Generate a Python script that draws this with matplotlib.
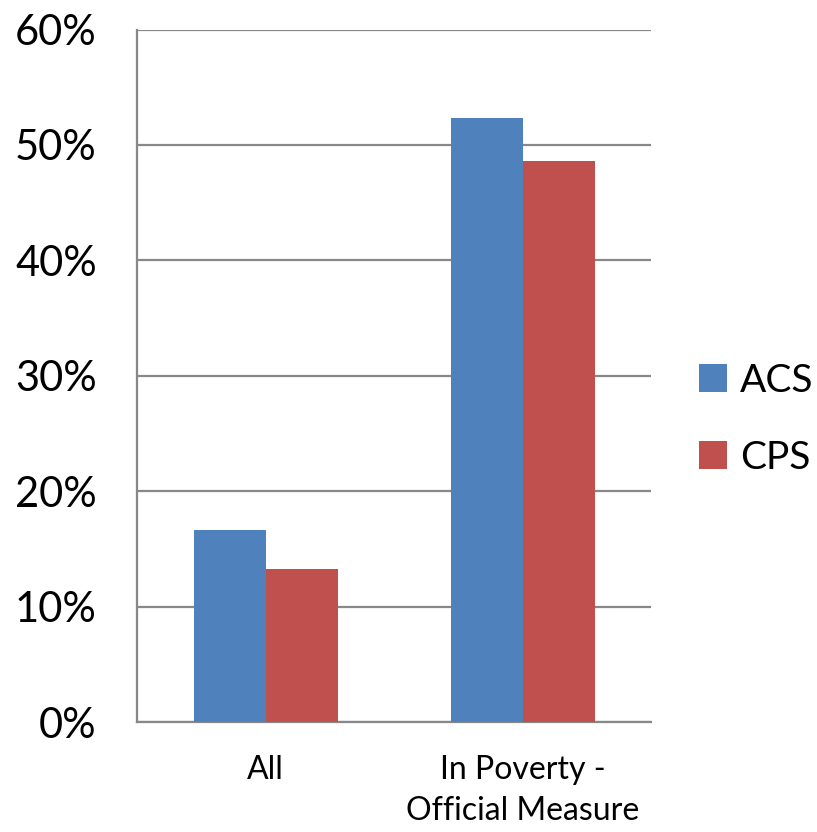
import matplotlib
matplotlib.use('Agg')
import matplotlib.pyplot as plt
import numpy as np

categories = ['All', 'In Poverty -\nOfficial Measure']
acs = [16.6, 52.3]
cps = [13.3, 48.6]
yticks = [0, 10, 20, 30, 40, 50, 60]

plt.rcParams['font.family'] = ['Lato', 'DejaVu Sans']

fig = plt.figure(figsize=(8.17, 8.32), dpi=100)
ax = fig.add_axes([0.1677, 0.1322, 0.797 - 0.1677, 0.9645 - 0.1322])

x = np.arange(len(categories))
w = 0.28
ax.bar(x - w / 2, acs, w, color='#4f81bd', label='ACS', zorder=3)
ax.bar(x + w / 2, cps, w, color='#c0504d', label='CPS', zorder=3)

ax.set_xlim(-0.5, 1.5)
ax.set_ylim(0, 60)
ax.set_yticks(yticks)
ax.set_yticklabels([str(t) + '%' for t in yticks], fontsize=30)
ax.set_xticks(x)
ax.set_xticklabels(categories, fontsize=23, linespacing=1.45)
ax.tick_params(axis='x', length=0, pad=24)
ax.tick_params(axis='y', length=0, pad=29)

ax.grid(axis='y', color='#888888', linewidth=1.6, zorder=0)
for s in ['top', 'right']:
    ax.spines[s].set_visible(False)
for s in ['left', 'bottom']:
    ax.spines[s].set_color('#888888')
    ax.spines[s].set_linewidth(1.6)

fig.legend(loc='center left', bbox_to_anchor=(0.855, 0.496), frameon=False,
           fontsize=28, handlelength=0.72, handleheight=0.72, labelspacing=1.05,
           handletextpad=0.35, borderaxespad=0, borderpad=0)

fig.savefig('out.png', dpi=100)
